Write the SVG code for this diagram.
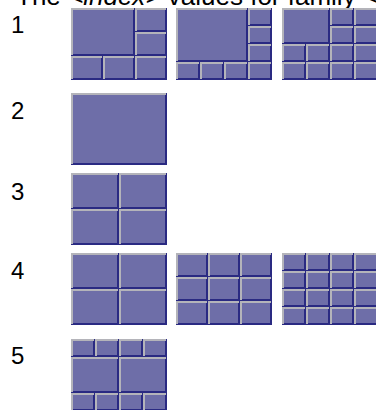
<svg xmlns="http://www.w3.org/2000/svg" xmlns:xlink="http://www.w3.org/1999/xlink" width="376" height="410" viewBox="0 0 376 410">
<style>
.f{fill:#6e6ea8;stroke:#2a2a82;stroke-width:2}
.l{fill:none;stroke:#b4b4ba;stroke-width:2}
.t{font-family:"Liberation Sans",Arial,sans-serif;fill:#000}
.lab{font-size:24px}
.ttl{font-size:26px}
</style>
<defs>
<g id="c24"><rect class="f" x="1" y="1" width="22" height="16"/><path class="l" d="M1 17V1H23"/></g>
<g id="c32"><rect class="f" x="1" y="1" width="30" height="22"/><path class="l" d="M1 23V1H31"/></g>
<g id="c48"><rect class="f" x="1" y="1" width="46" height="34"/><path class="l" d="M1 35V1H47"/></g>
<g id="c64"><rect class="f" x="1" y="1" width="62" height="46"/><path class="l" d="M1 47V1H63"/></g>
<g id="c72"><rect class="f" x="1" y="1" width="70" height="52"/><path class="l" d="M1 53V1H71"/></g>
<g id="c96"><rect class="f" x="1" y="1" width="94" height="70"/><path class="l" d="M1 71V1H95"/></g>
</defs>
<text class="t ttl" x="16" y="5">The <tspan font-style="italic">&lt;index&gt;</tspan> values for family <tspan font-style="italic">&lt;</tspan></text>
<g id="labels">
<text class="t lab" x="11" y="33">1</text>
<text class="t lab" x="11" y="119">2</text>
<text class="t lab" x="11" y="200">3</text>
<text class="t lab" x="11" y="279">4</text>
<text class="t lab" x="11" y="364">5</text>
</g>
<g id="connectors"/>
<g id="n1a" transform="translate(71,8)">
<use xlink:href="#c64" x="0" y="0"/><use xlink:href="#c32" x="64" y="0"/><use xlink:href="#c32" x="64" y="24"/>
<use xlink:href="#c32" x="0" y="48"/><use xlink:href="#c32" x="32" y="48"/><use xlink:href="#c32" x="64" y="48"/>
</g>
<g id="n1b" transform="translate(176,8)">
<use xlink:href="#c72" x="0" y="0"/><use xlink:href="#c24" x="72" y="0"/><use xlink:href="#c24" x="72" y="18"/><use xlink:href="#c24" x="72" y="36"/>
<use xlink:href="#c24" x="0" y="54"/><use xlink:href="#c24" x="24" y="54"/><use xlink:href="#c24" x="48" y="54"/><use xlink:href="#c24" x="72" y="54"/>
</g>
<g id="n1c" transform="translate(282,8)">
<use xlink:href="#c48" x="0" y="0"/><use xlink:href="#c24" x="48" y="0"/><use xlink:href="#c24" x="72" y="0"/><use xlink:href="#c24" x="48" y="18"/><use xlink:href="#c24" x="72" y="18"/>
<use xlink:href="#c24" x="0" y="36"/><use xlink:href="#c24" x="24" y="36"/><use xlink:href="#c24" x="48" y="36"/><use xlink:href="#c24" x="72" y="36"/>
<use xlink:href="#c24" x="0" y="54"/><use xlink:href="#c24" x="24" y="54"/><use xlink:href="#c24" x="48" y="54"/><use xlink:href="#c24" x="72" y="54"/>
</g>
<g id="n2" transform="translate(71,93)">
<use xlink:href="#c96" x="0" y="0"/>
</g>
<g id="n3" transform="translate(71,173)">
<use xlink:href="#c48" x="0" y="0"/><use xlink:href="#c48" x="48" y="0"/><use xlink:href="#c48" x="0" y="36"/><use xlink:href="#c48" x="48" y="36"/>
</g>
<g id="n4a" transform="translate(71,253)">
<use xlink:href="#c48" x="0" y="0"/><use xlink:href="#c48" x="48" y="0"/><use xlink:href="#c48" x="0" y="36"/><use xlink:href="#c48" x="48" y="36"/>
</g>
<g id="n4b" transform="translate(176,253)">
<use xlink:href="#c32" x="0" y="0"/><use xlink:href="#c32" x="32" y="0"/><use xlink:href="#c32" x="64" y="0"/>
<use xlink:href="#c32" x="0" y="24"/><use xlink:href="#c32" x="32" y="24"/><use xlink:href="#c32" x="64" y="24"/>
<use xlink:href="#c32" x="0" y="48"/><use xlink:href="#c32" x="32" y="48"/><use xlink:href="#c32" x="64" y="48"/>
</g>
<g id="n4c" transform="translate(282,253)">
<use xlink:href="#c24" x="0" y="0"/><use xlink:href="#c24" x="24" y="0"/><use xlink:href="#c24" x="48" y="0"/><use xlink:href="#c24" x="72" y="0"/>
<use xlink:href="#c24" x="0" y="18"/><use xlink:href="#c24" x="24" y="18"/><use xlink:href="#c24" x="48" y="18"/><use xlink:href="#c24" x="72" y="18"/>
<use xlink:href="#c24" x="0" y="36"/><use xlink:href="#c24" x="24" y="36"/><use xlink:href="#c24" x="48" y="36"/><use xlink:href="#c24" x="72" y="36"/>
<use xlink:href="#c24" x="0" y="54"/><use xlink:href="#c24" x="24" y="54"/><use xlink:href="#c24" x="48" y="54"/><use xlink:href="#c24" x="72" y="54"/>
</g>
<g id="n5" transform="translate(71,339)">
<use xlink:href="#c24" x="0" y="0"/><use xlink:href="#c24" x="24" y="0"/><use xlink:href="#c24" x="48" y="0"/><use xlink:href="#c24" x="72" y="0"/>
<use xlink:href="#c48" x="0" y="18"/><use xlink:href="#c48" x="48" y="18"/>
<use xlink:href="#c24" x="0" y="54"/><use xlink:href="#c24" x="24" y="54"/><use xlink:href="#c24" x="48" y="54"/><use xlink:href="#c24" x="72" y="54"/>
</g>
</svg>
